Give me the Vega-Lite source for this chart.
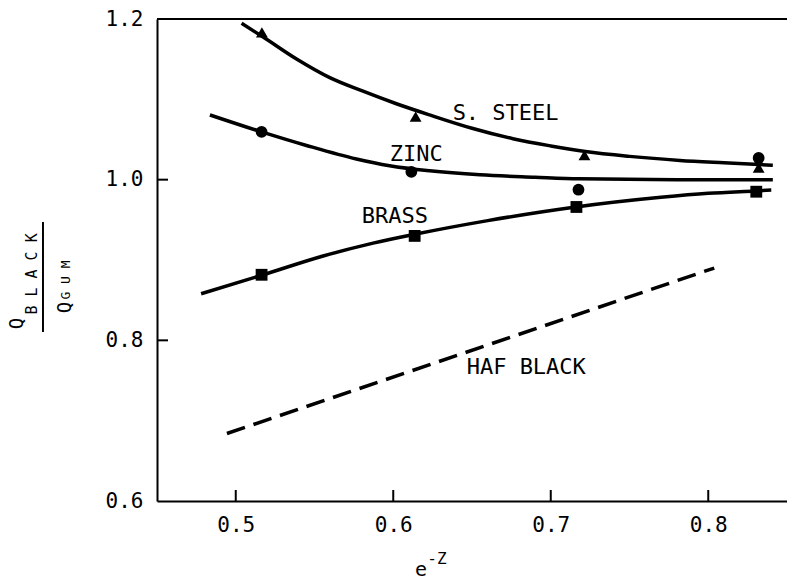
{
  "$schema": "https://vega.github.io/schema/vega-lite/v6.json",
  "width": 630,
  "height": 482,
  "autosize": "none",
  "padding": {"left": 157, "top": 19, "right": 0, "bottom": 80},
  "background": "white",
  "config": {
    "view": {"stroke": null},
    "font": "DejaVu Sans Mono",
    "axis": {
      "domainColor": "black", "domainWidth": 2, "ticks": false,
      "labelFont": "DejaVu Sans Mono", "labelFontSize": 21, "labelColor": "black",
      "labelFlush": false, "labelOverlap": false, "grid": false, "title": null
    },
    "axisX": {"labelPadding": 13},
    "axisY": {"labelPadding": 14}
  },
  "datasets": {
    "curves": [
      {"series": "S. STEEL", "x": 0.5037, "y": 1.1946},
      {"series": "S. STEEL", "x": 0.5174, "y": 1.1776},
      {"series": "S. STEEL", "x": 0.5386, "y": 1.1502},
      {"series": "S. STEEL", "x": 0.5597, "y": 1.127},
      {"series": "S. STEEL", "x": 0.5808, "y": 1.1101},
      {"series": "S. STEEL", "x": 0.602, "y": 1.0945},
      {"series": "S. STEEL", "x": 0.6231, "y": 1.0806},
      {"series": "S. STEEL", "x": 0.65, "y": 1.064},
      {"series": "S. STEEL", "x": 0.676, "y": 1.051},
      {"series": "S. STEEL", "x": 0.7, "y": 1.042},
      {"series": "S. STEEL", "x": 0.722, "y": 1.035},
      {"series": "S. STEEL", "x": 0.75, "y": 1.029},
      {"series": "S. STEEL", "x": 0.782, "y": 1.024},
      {"series": "S. STEEL", "x": 0.81, "y": 1.021},
      {"series": "S. STEEL", "x": 0.841, "y": 1.018},
      {"series": "ZINC", "x": 0.4836, "y": 1.0806},
      {"series": "ZINC", "x": 0.5164, "y": 1.0595},
      {"series": "ZINC", "x": 0.5449, "y": 1.0426},
      {"series": "ZINC", "x": 0.5766, "y": 1.0257},
      {"series": "ZINC", "x": 0.5977, "y": 1.0173},
      {"series": "ZINC", "x": 0.6231, "y": 1.011},
      {"series": "ZINC", "x": 0.655, "y": 1.006},
      {"series": "ZINC", "x": 0.69, "y": 1.003},
      {"series": "ZINC", "x": 0.718, "y": 1.001},
      {"series": "ZINC", "x": 0.78, "y": 1.0},
      {"series": "ZINC", "x": 0.841, "y": 1.0},
      {"series": "BRASS", "x": 0.478, "y": 0.858},
      {"series": "BRASS", "x": 0.5164, "y": 0.881},
      {"series": "BRASS", "x": 0.5555, "y": 0.905},
      {"series": "BRASS", "x": 0.5872, "y": 0.921},
      {"series": "BRASS", "x": 0.6136, "y": 0.932},
      {"series": "BRASS", "x": 0.66, "y": 0.949},
      {"series": "BRASS", "x": 0.716, "y": 0.966},
      {"series": "BRASS", "x": 0.77, "y": 0.978},
      {"series": "BRASS", "x": 0.8, "y": 0.983},
      {"series": "BRASS", "x": 0.83, "y": 0.986},
      {"series": "BRASS", "x": 0.84, "y": 0.987}
    ],
    "haf": [
      {"series": "HAF BLACK", "x": 0.4944, "y": 0.684},
      {"series": "HAF BLACK", "x": 0.8038, "y": 0.89}
    ],
    "points": [
      {"series": "S. STEEL", "x": 0.5166, "y": 1.1835},
      {"series": "S. STEEL", "x": 0.6142, "y": 1.0785},
      {"series": "S. STEEL", "x": 0.7214, "y": 1.0304},
      {"series": "S. STEEL", "x": 0.832, "y": 1.015},
      {"series": "ZINC", "x": 0.5164, "y": 1.0595},
      {"series": "ZINC", "x": 0.6115, "y": 1.0097},
      {"series": "ZINC", "x": 0.7176, "y": 0.9875},
      {"series": "ZINC", "x": 0.832, "y": 1.027},
      {"series": "BRASS", "x": 0.5164, "y": 0.8816},
      {"series": "BRASS", "x": 0.6136, "y": 0.93},
      {"series": "BRASS", "x": 0.7163, "y": 0.966},
      {"series": "BRASS", "x": 0.8305, "y": 0.985}
    ],
    "labels": [
      {"label": "S. STEEL", "x": 0.6377, "y": 1.0747},
      {"label": "ZINC", "x": 0.5978, "y": 1.0228},
      {"label": "BRASS", "x": 0.58, "y": 0.946},
      {"label": "HAF BLACK", "x": 0.6466, "y": 0.7585}
    ],
    "tickmarks": [
      {"x": 0.5, "x2": 0.5, "y": 0.6, "y2": 0.6137},
      {"x": 0.6, "x2": 0.6, "y": 0.6, "y2": 0.6137},
      {"x": 0.7, "x2": 0.7, "y": 0.6, "y2": 0.6137},
      {"x": 0.8, "x2": 0.8, "y": 0.6, "y2": 0.6137},
      {"x": 0.45, "x2": 0.457, "y": 0.8, "y2": 0.8},
      {"x": 0.45, "x2": 0.457, "y": 1.0, "y2": 1.0}
    ]
  },
  "layer": [
    {
      "data": {"values": [{"x": 0.45, "x2": 0.85, "y": 1.2}]},
      "mark": {"type": "rule", "color": "black", "strokeWidth": 2},
      "encoding": {
        "x": {"field": "x", "type": "quantitative", "scale": {"domain": [0.45, 0.85], "nice": false, "zero": false},
              "axis": {"values": [0.5, 0.6, 0.7, 0.8], "format": ".1f"}},
        "x2": {"field": "x2"},
        "y": {"field": "y", "type": "quantitative", "scale": {"domain": [0.6, 1.2], "nice": false, "zero": false},
              "axis": {"values": [0.6, 0.8, 1.0, 1.2], "format": ".1f"}}
      }
    },
    {
      "data": {"name": "tickmarks"},
      "mark": {"type": "rule", "color": "black", "strokeWidth": 2},
      "encoding": {
        "x": {"field": "x", "type": "quantitative"},
        "x2": {"field": "x2"},
        "y": {"field": "y", "type": "quantitative"},
        "y2": {"field": "y2"}
      }
    },
    {
      "data": {"name": "curves"},
      "mark": {"type": "line", "color": "black", "strokeWidth": 3.5, "interpolate": "monotone"},
      "encoding": {
        "x": {"field": "x", "type": "quantitative"},
        "y": {"field": "y", "type": "quantitative"},
        "detail": {"field": "series"}
      }
    },
    {
      "data": {"name": "haf"},
      "mark": {"type": "line", "color": "black", "strokeWidth": 3.5, "strokeDash": [19, 9]},
      "encoding": {
        "x": {"field": "x", "type": "quantitative"},
        "y": {"field": "y", "type": "quantitative"}
      }
    },
    {
      "data": {"name": "points"},
      "mark": {"type": "point", "filled": true, "opacity": 1, "color": "black"},
      "encoding": {
        "x": {"field": "x", "type": "quantitative"},
        "y": {"field": "y", "type": "quantitative"},
        "shape": {"field": "series", "type": "nominal",
                  "scale": {"domain": ["S. STEEL", "ZINC", "BRASS"], "range": ["triangle-up", "circle", "square"]},
                  "legend": null},
        "size": {"field": "series", "type": "nominal",
                 "scale": {"domain": ["S. STEEL", "ZINC", "BRASS"], "range": [140, 140, 110]},
                 "legend": null}
      }
    },
    {
      "data": {"name": "labels"},
      "mark": {"type": "text", "font": "DejaVu Sans Mono", "fontSize": 22, "align": "left", "baseline": "alphabetic", "color": "black"},
      "encoding": {
        "x": {"field": "x", "type": "quantitative"},
        "y": {"field": "y", "type": "quantitative"},
        "text": {"field": "label"}
      }
    },
    {
      "data": {"values": [
        {"t": "Q", "x": 0.3608, "y": 0.821, "s": 19, "f": "DejaVu Sans Mono"},
        {"t": "B\u2004L\u2004A\u2004C\u2004K", "x": 0.3706, "y": 0.8826, "s": 15, "f": "DejaVu Sans"},
        {"t": "Q", "x": 0.3916, "y": 0.8409, "s": 19, "f": "DejaVu Sans Mono"},
        {"t": "G\u2004U\u2004M", "x": 0.3922, "y": 0.8751, "s": 13, "f": "DejaVu Sans"}
      ]},
      "mark": {"type": "text", "angle": 270, "align": "center", "baseline": "middle", "color": "black"},
      "encoding": {
        "x": {"field": "x", "type": "quantitative"},
        "y": {"field": "y", "type": "quantitative"},
        "text": {"field": "t"},
        "size": {"field": "s", "type": "quantitative", "scale": null},
        "font": {"field": "f", "type": "nominal", "scale": null}
      }
    },
    {
      "data": {"values": [{"x": 0.3776, "y": 0.9473, "y2": 0.8104}]},
      "mark": {"type": "rule", "color": "black", "strokeWidth": 2},
      "encoding": {
        "x": {"field": "x", "type": "quantitative"},
        "y": {"field": "y", "type": "quantitative"},
        "y2": {"field": "y2"}
      }
    },
    {
      "data": {"values": [
        {"t": "e", "x": 0.6177, "y": 0.5066, "s": 20, "a": "center"},
        {"t": "-Z", "x": 0.6277, "y": 0.5216, "s": 16, "a": "left"}
      ]},
      "mark": {"type": "text", "font": "DejaVu Sans Mono", "baseline": "alphabetic", "color": "black"},
      "encoding": {
        "x": {"field": "x", "type": "quantitative"},
        "y": {"field": "y", "type": "quantitative"},
        "text": {"field": "t"},
        "size": {"field": "s", "type": "quantitative", "scale": null},
        "align": {"field": "a", "type": "nominal", "scale": null}
      }
    }
  ]
}
